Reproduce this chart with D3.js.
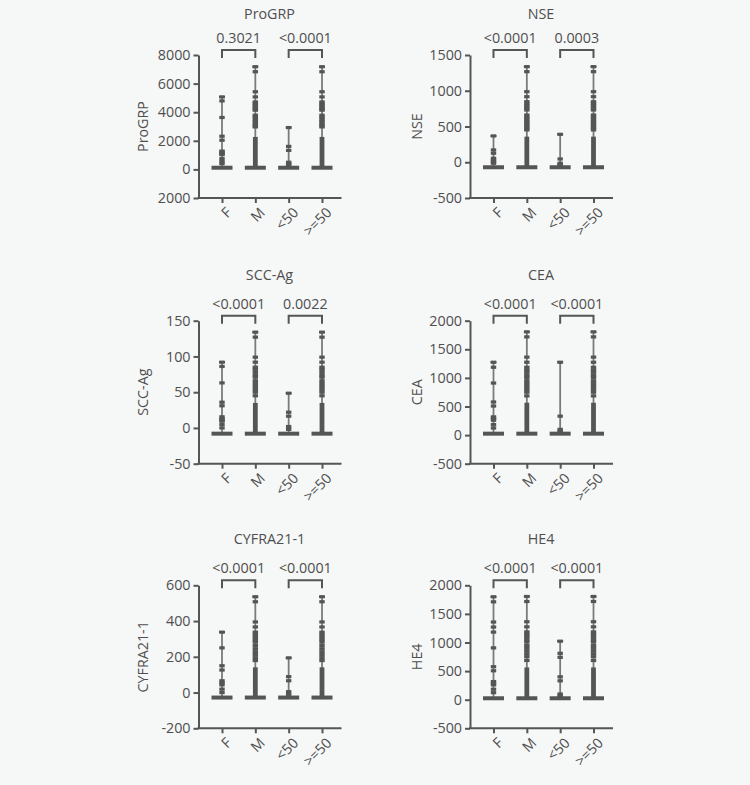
<!DOCTYPE html>
<html>
<head>
<meta charset="utf-8">
<script src="https://cdn.jsdelivr.net/npm/d3@7"></script>
<style>
  html, body { margin: 0; padding: 0; background: #f6f7f7; }
  text { font-family: "Open Sans", sans-serif; }
</style>
</head>
<body>
<script>
// ---------------- DATA ----------------
const categories = ["F", "M", "<50", ">=50"];
const titles = ["ProGRP", "NSE", "SCC-Ag", "CEA", "CYFRA21-1", "HE4"];
const pValues = [
  ["0.3021", "<0.0001"],
  ["<0.0001", "0.0003"],
  ["<0.0001", "0.0022"],
  ["<0.0001", "<0.0001"],
  ["<0.0001", "<0.0001"],
  ["<0.0001", "<0.0001"]
];
const yDomains = [[-2000, 8000], [-500, 1500], [-50, 150], [-500, 2000], [-200, 600], [-500, 2000]];
const yTicks = [
  [-2000, 0, 2000, 4000, 6000, 8000],
  [-500, 0, 500, 1000, 1500],
  [-50, 0, 50, 100, 150],
  [-500, 0, 500, 1000, 1500, 2000],
  [-200, 0, 200, 400, 600],
  [-500, 0, 500, 1000, 1500, 2000]
];
const yTickLabels = [
  ["2000", "0", "2000", "4000", "6000", "8000"],
  ["-500", "0", "500", "1000", "1500"],
  ["-50", "0", "50", "100", "150"],
  ["-500", "0", "500", "1000", "1500", "2000"],
  ["-200", "0", "200", "400", "600"],
  ["-500", "0", "500", "1000", "1500", "2000"]
];
// median (dense baseline bar) per panel
const medians = [117, -70, -8, 25, -28, 25];
// maximum per group (F, M, <50, >=50)
const maxima = [
  [5070, 7180, 2925, 7180],
  [368, 1337, 391, 1337],
  [92, 134, 48.6, 134],
  [1274, 1805, 1274, 1805],
  [338, 536, 194, 536],
  [1799, 1805, 1023, 1805]
];
// upper end of the densely packed column of points per group (null = none)
const denseTops = [
  [null, 2270, null, 2270],
  [null, 358, null, 358],
  [null, 35, null, 35],
  [null, 566, null, 566],
  [null, 141, null, 141],
  [null, 564, null, 564]
];
// individual visible points per group
const proGRPPoints = [
  [5070, 4790, 3630, 2320, 2040, 1280, 1200, 1100, 1030, 750, 560, 400],
  [7180, 6830, 5430, 5070, 4720, 4600, 4480, 4350, 4230, 4140, 3790, 3650, 3500, 3350, 3200, 3050, 2970],
  [2925, 1610, 1330, 500, 400, 280],
  [7180, 6830, 5430, 5070, 4720, 4600, 4480, 4350, 4230, 4140, 3790, 3650, 3500, 3350, 3200, 3050, 2970]
];
const nsePoints = [
  [368, 172, 126, 56, 30, 5, -14],
  [1337, 1267, 987, 917, 847, 820, 790, 760, 731, 661, 630, 600, 570, 540, 510, 480, 452],
  [391, 46, -14, -30, -50],
  [1337, 1267, 987, 917, 847, 820, 790, 760, 731, 661, 630, 600, 570, 540, 510, 480, 452]
];
const sccPoints = [
  [92, 86, 63, 36, 31, 15.6, 13, 11, 9.5, 4.8, 0],
  [134, 127, 99, 92, 85, 82, 78, 74, 71, 66, 62, 58, 54, 50, 45],
  [48.6, 22, 16.5, 2, -2],
  [134, 127, 99, 92, 85, 82, 78, 74, 71, 66, 62, 58, 54, 50, 45]
];
const ceaPoints = [
  [1274, 1186, 910, 579, 508, 319, 290, 260, 184, 124],
  [1805, 1717, 1363, 1274, 1186, 1140, 1100, 1050, 1009, 950, 900, 850, 800, 750, 685],
  [1274, 331, 100, 70, 40],
  [1805, 1717, 1363, 1274, 1186, 1140, 1100, 1050, 1009, 950, 900, 850, 800, 750, 685]
];
const cyfraPoints = [
  [338, 250, 150, 126, 66, 55, 43, 19, 0],
  [536, 508, 395, 367, 338, 324, 310, 296, 282, 263, 245, 228, 212, 195, 179],
  [194, 89, 66, 5, -10],
  [536, 508, 395, 367, 338, 324, 310, 296, 282, 263, 245, 228, 212, 195, 179]
];
const he4Points = [
  [1799, 1711, 1358, 1270, 1182, 906, 577, 506, 317, 288, 259, 183, 123],
  [1805, 1717, 1363, 1274, 1186, 1140, 1100, 1050, 1009, 950, 900, 850, 800, 750, 685],
  [1023, 811, 741, 400, 330, 100, 70, 40],
  [1805, 1717, 1363, 1274, 1186, 1140, 1100, 1050, 1009, 950, 900, 850, 800, 750, 685]
];
const allPoints = [proGRPPoints, nsePoints, sccPoints, ceaPoints, cyfraPoints, he4Points];

// ---------------- LAYOUT ----------------
const W = 750, H = 785;
const colX0 = [198.5, 470];
const rowTop = [55, 320.7, 585.3];
const plotH = 143;
const plotW = 143;
const titleBaseline = [18.5, 280, 543.5];
const yLabelX = [142.5, 416.5];
const ink = "#555555";
const textInk = "#4f4f4f";
const lineInk = "#7a7a7a";

const svg = d3.select("body").append("svg")
  .attr("width", W).attr("height", H);
svg.append("rect").attr("width", W).attr("height", H).attr("fill", "#f6f7f7");

titles.forEach((title, i) => {
  const col = i % 2, row = Math.floor(i / 2);
  const x0 = colX0[col], top = rowTop[row], bottom = top + plotH;
  const g = svg.append("g");

  const y = d3.scaleLinear().domain(yDomains[i]).range([bottom, top]);
  const x = d3.scalePoint().domain(categories).range([x0 + 23.5, x0 + 123.5]);

  // title
  g.append("text").attr("x", x0 + 71).attr("y", titleBaseline[row])
    .attr("text-anchor", "middle").attr("font-size", 14.3).attr("fill", textInk).text(title);

  // y axis
  const yAxis = d3.axisLeft(y).tickValues(yTicks[i])
    .tickFormat((d, j) => yTickLabels[i][j]).tickSize(5).tickSizeOuter(0).tickPadding(3);
  const ya = g.append("g").attr("transform", `translate(${x0},0)`).call(yAxis);
  ya.select(".domain").attr("stroke", ink).attr("stroke-width", 2);
  ya.selectAll(".tick line").attr("stroke", ink).attr("stroke-width", 2);
  ya.selectAll(".tick text").attr("font-size", 14.3).attr("fill", textInk)
    .attr("font-family", "'Open Sans', sans-serif");

  // y label
  g.append("text")
    .attr("transform", `translate(${yLabelX[col]},${(top + bottom) / 2}) rotate(-90)`)
    .attr("text-anchor", "middle").attr("dy", "0.35em")
    .attr("font-size", 14.3).attr("fill", textInk).text(title);

  // x axis
  g.append("line").attr("x1", x0 - 1).attr("x2", x0 + plotW).attr("y1", bottom).attr("y2", bottom)
    .attr("stroke", ink).attr("stroke-width", 2);
  const xAxis = d3.axisBottom(x).tickSize(5).tickSizeOuter(0).tickFormat("");
  const xa = g.append("g").attr("transform", `translate(0,${bottom})`).call(xAxis);
  xa.select(".domain").remove();
  xa.selectAll(".tick line").attr("stroke", ink).attr("stroke-width", 2);
  g.selectAll(".xlab").data(categories).join("text")
    .attr("transform", d => `translate(${x(d) + 7},${bottom + 12}) rotate(-45)`)
    .attr("text-anchor", "end").attr("dy", "0.35em")
    .attr("font-size", 14.3).attr("fill", textInk).text(d => d);

  // groups
  categories.forEach((c, k) => {
    const cx = x(c);
    const med = medians[i];
    // range line
    g.append("line").attr("x1", cx).attr("x2", cx)
      .attr("y1", y(med)).attr("y2", y(maxima[i][k]))
      .attr("stroke", lineInk).attr("stroke-width", 1.8);
    // cap
    g.append("line").attr("x1", cx - 3).attr("x2", cx + 3)
      .attr("y1", y(maxima[i][k])).attr("y2", y(maxima[i][k]))
      .attr("stroke", ink).attr("stroke-width", 2);
    // dense column
    if (denseTops[i][k] !== null) {
      g.append("rect").attr("x", cx - 2.4).attr("width", 4.8)
        .attr("y", y(denseTops[i][k])).attr("height", y(med) - y(denseTops[i][k]))
        .attr("fill", ink);
    }
    // points
    g.selectAll(null).data(allPoints[i][k]).join("rect")
      .attr("x", cx - 2.7).attr("width", 5.4)
      .attr("y", d => y(d) - 1.6).attr("height", 3.2)
      .attr("fill", ink);
    // median bar
    g.append("rect").attr("x", cx - 10.5).attr("width", 21)
      .attr("y", y(med) - 2).attr("height", 4).attr("fill", ink);
  });

  // brackets + p-values
  [[0, 1], [2, 3]].forEach((pair, p) => {
    const xa1 = x(categories[pair[0]]), xa2 = x(categories[pair[1]]);
    g.append("path")
      .attr("d", `M${xa1},${top + 3}V${top - 5}H${xa2}V${top + 3}`)
      .attr("fill", "none").attr("stroke", ink).attr("stroke-width", 2);
    g.append("text").attr("x", (xa1 + xa2) / 2).attr("y", top - 12)
      .attr("text-anchor", "middle").attr("font-size", 14.3).attr("fill", textInk)
      .text(pValues[i][p]);
  });
});
</script>
</body>
</html>
